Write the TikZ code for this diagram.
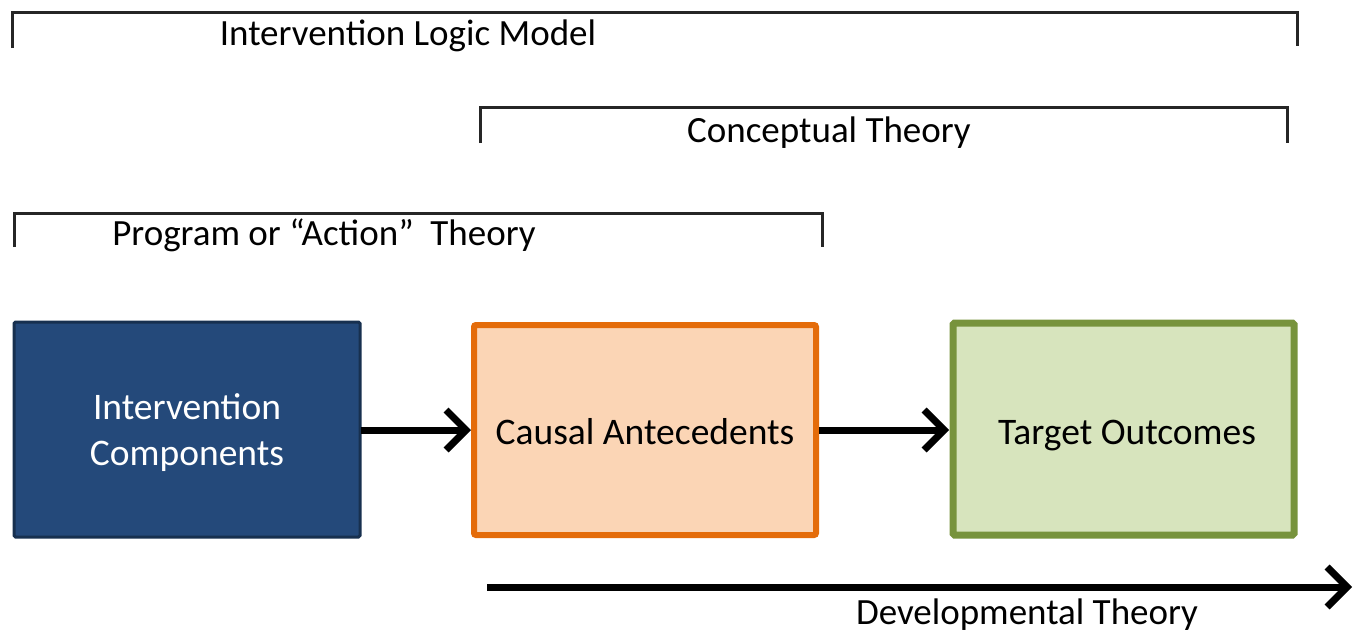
\documentclass[tikz,border=0pt]{standalone}
\usepackage{fontspec}
\setmainfont{Carlito}
\usetikzlibrary{arrows.meta}
\definecolor{bluefill}{HTML}{24497A}
\definecolor{blueedge}{HTML}{17304F}
\definecolor{orfill}{HTML}{FBD5B5}
\definecolor{oredge}{HTML}{E46C0A}
\definecolor{grfill}{HTML}{D7E4BD}
\definecolor{gredge}{HTML}{77933C}
\tikzset{
  x=1pt, y=-1pt,
  bracket/.style={line width=3pt, black!85},
  blabel/.style={font=\fontsize{37}{42}\selectfont, inner sep=0pt},
  boxlabel/.style={font=\fontsize{37.5}{46}\selectfont, inner sep=0pt, align=center},
  flow/.style={line width=7pt, -{Straight Barb[length=20pt, width=40pt, line width=7pt]}},
}
\begin{document}
\begin{tikzpicture}
\useasboundingbox (0,0) rectangle (1361,635);
% brackets
\draw[bracket] (12,48) -- (12,12) -- (1297,12) -- (1297,46);
\node[blabel] (ilm) at (408,36) {Intervention Logic Model};
\draw[bracket] (480,143) -- (480,107) -- (1287,107) -- (1287,143);
\node[blabel] (ct) at (829,133) {Conceptual Theory};
\draw[bracket] (14,247) -- (14,213) -- (822,213) -- (822,247);
\node[blabel] (pat) at (324,235) {Program or “Action”\ \ Theory};
% boxes
\draw[fill=bluefill, draw=blueedge, line width=3pt, rounded corners=1.5pt] (14,322) rectangle (360,537);
\node[boxlabel, text=white] (ic) at (187,433) {Intervention\\Components};
\draw[fill=orfill, draw=oredge, line width=6pt, rounded corners=2pt] (474,325) rectangle (816,535);
\node[boxlabel] (ca) at (645,432) {Causal Antecedents};
\draw[fill=grfill, draw=gredge, line width=7pt, rounded corners=1.5pt] (953,323) rectangle (1294,535);
\node[boxlabel] (to) at (1127,436) {Target Outcomes};
\coordinate (bR) at (361,430);
\coordinate (oL) at (471,430);
\coordinate (oR) at (819,430);
\coordinate (gL) at (949,430);
\draw[flow] (bR) -- (oL);
\draw[flow] (oR) -- (gL);
% developmental arrow
\coordinate (d0) at (487,587);
\coordinate (d1) at (1352,587);
\draw[flow] (d0) -- (d1);
\node[blabel] (dt) at (1027,615) {Developmental Theory};
\end{tikzpicture}
\end{document}
